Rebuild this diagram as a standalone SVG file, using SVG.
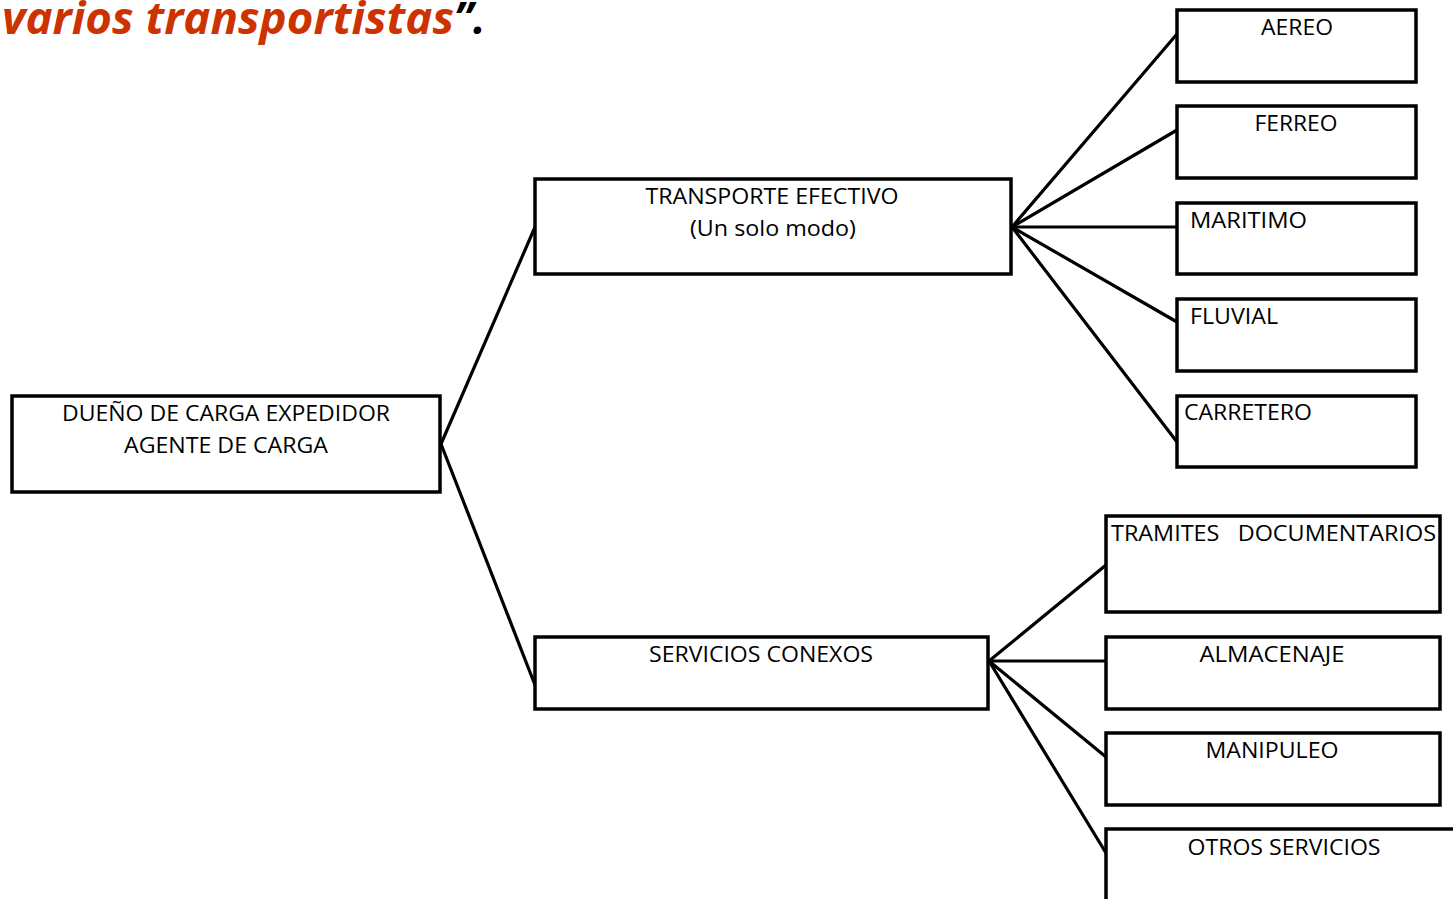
<svg xmlns="http://www.w3.org/2000/svg" width="1453" height="899" viewBox="0 0 1453 899">
  <style>
    .box { fill: #ffffff; stroke: #000000; stroke-width: 3.5; }
    .lbl { font-family: "Open Sans", "Liberation Sans", sans-serif; font-size: 21px; fill: #000000; }
    .conn line { stroke: #000000; stroke-width: 3.2; stroke-linecap: round; }
    .title { font-family: "Open Sans", "Liberation Sans", sans-serif; font-size: 44px; font-weight: bold; font-style: italic; }
  </style>
  <rect width="1453" height="899" fill="#ffffff"/>

  <!-- heading fragment -->
  <text class="title" x="2" y="34"><tspan fill="#cc3300" textLength="452" lengthAdjust="spacingAndGlyphs">varios transportistas</tspan><tspan fill="#000000">”.</tspan></text>

  <!-- connectors -->
  <g id="connectors" class="conn">
    <line x1="441" y1="444" x2="535" y2="227"/>
    <line x1="441" y1="444" x2="535" y2="685"/>
    <line x1="1012" y1="227" x2="1177" y2="34"/>
    <line x1="1012" y1="227" x2="1177" y2="130"/>
    <line x1="1012" y1="227" x2="1177" y2="227"/>
    <line x1="1012" y1="227" x2="1177" y2="322"/>
    <line x1="1012" y1="227" x2="1177" y2="442"/>
    <line x1="989" y1="661" x2="1106" y2="565"/>
    <line x1="989" y1="661" x2="1106" y2="661"/>
    <line x1="989" y1="661" x2="1106" y2="757"/>
    <line x1="989" y1="661" x2="1106" y2="853"/>
  </g>

  <g id="root">
    <rect class="box" x="12" y="396" width="428" height="96"/>
    <text class="lbl" x="226" y="421" text-anchor="middle" textLength="328" lengthAdjust="spacingAndGlyphs">DUEÑO DE CARGA EXPEDIDOR</text>
    <text class="lbl" x="226" y="453" text-anchor="middle" textLength="204" lengthAdjust="spacingAndGlyphs">AGENTE DE CARGA</text>
  </g>

  <g id="transporte">
    <rect class="box" x="535" y="179" width="476" height="95"/>
    <text class="lbl" x="772" y="204" text-anchor="middle" textLength="253" lengthAdjust="spacingAndGlyphs">TRANSPORTE EFECTIVO</text>
    <text class="lbl" x="773" y="236" text-anchor="middle" textLength="166" lengthAdjust="spacingAndGlyphs">(Un solo modo)</text>
  </g>

  <g id="servicios">
    <rect class="box" x="535" y="637" width="453" height="72"/>
    <text class="lbl" x="761" y="662" text-anchor="middle" textLength="224" lengthAdjust="spacingAndGlyphs">SERVICIOS CONEXOS</text>
  </g>

  <g id="aereo">
    <rect class="box" x="1177" y="10" width="239" height="72"/>
    <text class="lbl" x="1297" y="35" text-anchor="middle" textLength="72" lengthAdjust="spacingAndGlyphs">AEREO</text>
  </g>

  <g id="ferreo">
    <rect class="box" x="1177" y="106" width="239" height="72"/>
    <text class="lbl" x="1296" y="131" text-anchor="middle" textLength="83" lengthAdjust="spacingAndGlyphs">FERREO</text>
  </g>

  <g id="maritimo">
    <rect class="box" x="1177" y="203" width="239" height="71"/>
    <text class="lbl" x="1190" y="228" textLength="117" lengthAdjust="spacingAndGlyphs">MARITIMO</text>
  </g>

  <g id="fluvial">
    <rect class="box" x="1177" y="299" width="239" height="72"/>
    <text class="lbl" x="1190" y="324" textLength="88" lengthAdjust="spacingAndGlyphs">FLUVIAL</text>
  </g>

  <g id="carretero">
    <rect class="box" x="1177" y="396" width="239" height="71"/>
    <text class="lbl" x="1184" y="420" textLength="128" lengthAdjust="spacingAndGlyphs">CARRETERO</text>
  </g>

  <g id="tramites">
    <rect class="box" x="1106" y="516" width="334" height="96"/>
    <text class="lbl" x="1111" y="541" textLength="325" lengthAdjust="spacingAndGlyphs" xml:space="preserve">TRAMITES   DOCUMENTARIOS</text>
  </g>

  <g id="almacenaje">
    <rect class="box" x="1106" y="637" width="334" height="72"/>
    <text class="lbl" x="1272" y="662" text-anchor="middle" textLength="145" lengthAdjust="spacingAndGlyphs">ALMACENAJE</text>
  </g>

  <g id="manipuleo">
    <rect class="box" x="1106" y="733" width="334" height="72"/>
    <text class="lbl" x="1272" y="758" text-anchor="middle" textLength="133" lengthAdjust="spacingAndGlyphs">MANIPULEO</text>
  </g>

  <g id="otros">
    <rect class="box" x="1106" y="829" width="360" height="100"/>
    <text class="lbl" x="1284" y="855" text-anchor="middle" textLength="193" lengthAdjust="spacingAndGlyphs">OTROS SERVICIOS</text>
  </g>
</svg>
